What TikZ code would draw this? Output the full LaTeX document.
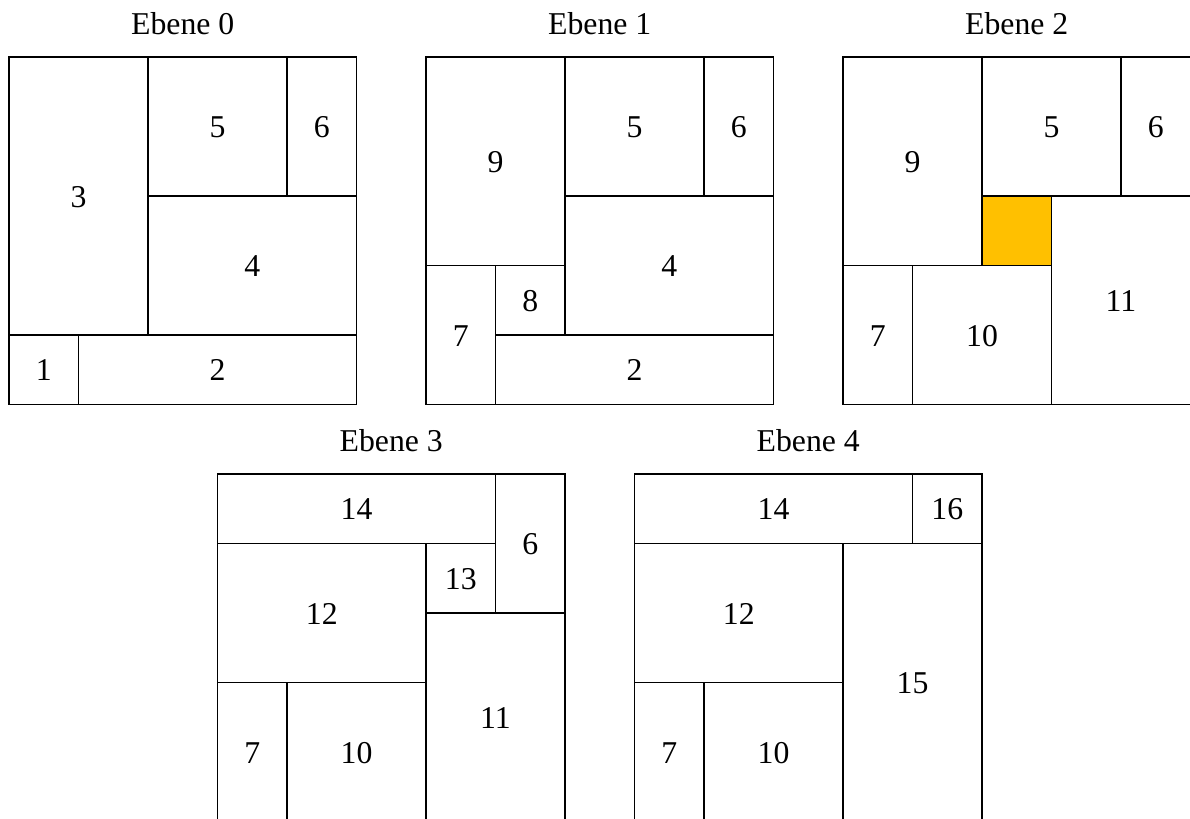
\documentclass[tikz,border=0pt]{standalone}
\usepackage{fontspec}
\setmainfont{Liberation Serif}
\definecolor{ebeneorange}{RGB}{255,192,0}
\newcommand{\ebcell}[6][]{%
  \node[cellbox,#1,minimum width={(#4-#2)*1cm},minimum height={(#5-#3)*1cm}] (#6) at ({(#2+#4)/2},{(#3+#5)/2}) {};}
\begin{document}
\begin{tikzpicture}[y=-1cm,x=1cm,
  cellbox/.style={draw=black,line width=0.55pt,inner sep=0pt,outer sep=0pt,rectangle},
  numlabel/.style={font=\fontsize{13}{16}\selectfont,inner sep=0pt,yshift=-0.3pt},
  titlelabel/.style={font=\fontsize{13}{16}\selectfont,inner sep=0pt}]
\useasboundingbox (-0.1295,-0.820) rectangle (16.9928,10.950);
% ---------- Ebene 0 ----------
\begin{scope}[shift={(0,0)}]
  \node[titlelabel] (t0) at (2.5,-0.48) {Ebene 0};
  \ebcell{0}{0}{2}{4}{a3}
  \ebcell{2}{0}{4}{2}{a5}
  \ebcell{4}{0}{5}{2}{a6}
  \ebcell{2}{2}{5}{4}{a4}
  \ebcell{0}{4}{1}{5}{a1}
  \ebcell{1}{4}{5}{5}{a2}
  \node[numlabel] at (a3) {3};
  \node[numlabel] at (a5) {5};
  \node[numlabel] at (a6) {6};
  \node[numlabel] at (a4) {4};
  \node[numlabel] at (a1) {1};
  \node[numlabel] at (a2) {2};
\end{scope}
% ---------- Ebene 1 ----------
\begin{scope}[shift={(6,0)}]
  \node[titlelabel] (t1) at (2.5,-0.48) {Ebene 1};
  \ebcell{0}{0}{2}{3}{b9}
  \ebcell{2}{0}{4}{2}{b5}
  \ebcell{4}{0}{5}{2}{b6}
  \ebcell{2}{2}{5}{4}{b4}
  \ebcell{0}{3}{1}{5}{b7}
  \ebcell{1}{3}{2}{4}{b8}
  \ebcell{1}{4}{5}{5}{b2}
  \node[numlabel] at (b9) {9};
  \node[numlabel] at (b5) {5};
  \node[numlabel] at (b6) {6};
  \node[numlabel] at (b4) {4};
  \node[numlabel] at (b7) {7};
  \node[numlabel] at (b8) {8};
  \node[numlabel] at (b2) {2};
\end{scope}
% ---------- Ebene 2 ----------
\begin{scope}[shift={(12,0)}]
  \node[titlelabel] (t2) at (2.5,-0.48) {Ebene 2};
  \ebcell{0}{0}{2}{3}{c9}
  \ebcell{2}{0}{4}{2}{c5}
  \ebcell{4}{0}{5}{2}{c6}
  \ebcell[fill=ebeneorange]{2}{2}{3}{3}{cfree}
  \ebcell{0}{3}{1}{5}{c7}
  \ebcell{1}{3}{3}{5}{c10}
  \ebcell{3}{2}{5}{5}{c11}
  \node[numlabel] at (c9) {9};
  \node[numlabel] at (c5) {5};
  \node[numlabel] at (c6) {6};
  \node[numlabel] at (c7) {7};
  \node[numlabel] at (c10) {10};
  \node[numlabel] at (c11) {11};
\end{scope}
% ---------- Ebene 3 ----------
\begin{scope}[shift={(3,6)}]
  \node[titlelabel] (t3) at (2.5,-0.48) {Ebene 3};
  \ebcell{0}{0}{4}{1}{d14}
  \ebcell{4}{0}{5}{2}{d6}
  \ebcell{3}{1}{4}{2}{d13}
  \ebcell{0}{1}{3}{3}{d12}
  \ebcell{3}{2}{5}{5}{d11}
  \ebcell{0}{3}{1}{5}{d7}
  \ebcell{1}{3}{3}{5}{d10}
  \node[numlabel] at (d14) {14};
  \node[numlabel] at (d6) {6};
  \node[numlabel] at (d13) {13};
  \node[numlabel] at (d12) {12};
  \node[numlabel] at (d11) {11};
  \node[numlabel] at (d7) {7};
  \node[numlabel] at (d10) {10};
\end{scope}
% ---------- Ebene 4 ----------
\begin{scope}[shift={(9,6)}]
  \node[titlelabel] (t4) at (2.5,-0.48) {Ebene 4};
  \ebcell{0}{0}{4}{1}{e14}
  \ebcell{4}{0}{5}{1}{e16}
  \ebcell{0}{1}{3}{3}{e12}
  \ebcell{3}{1}{5}{5}{e15}
  \ebcell{0}{3}{1}{5}{e7}
  \ebcell{1}{3}{3}{5}{e10}
  \node[numlabel] at (e14) {14};
  \node[numlabel] at (e16) {16};
  \node[numlabel] at (e12) {12};
  \node[numlabel] at (e15) {15};
  \node[numlabel] at (e7) {7};
  \node[numlabel] at (e10) {10};
\end{scope}
\end{tikzpicture}
\end{document}
